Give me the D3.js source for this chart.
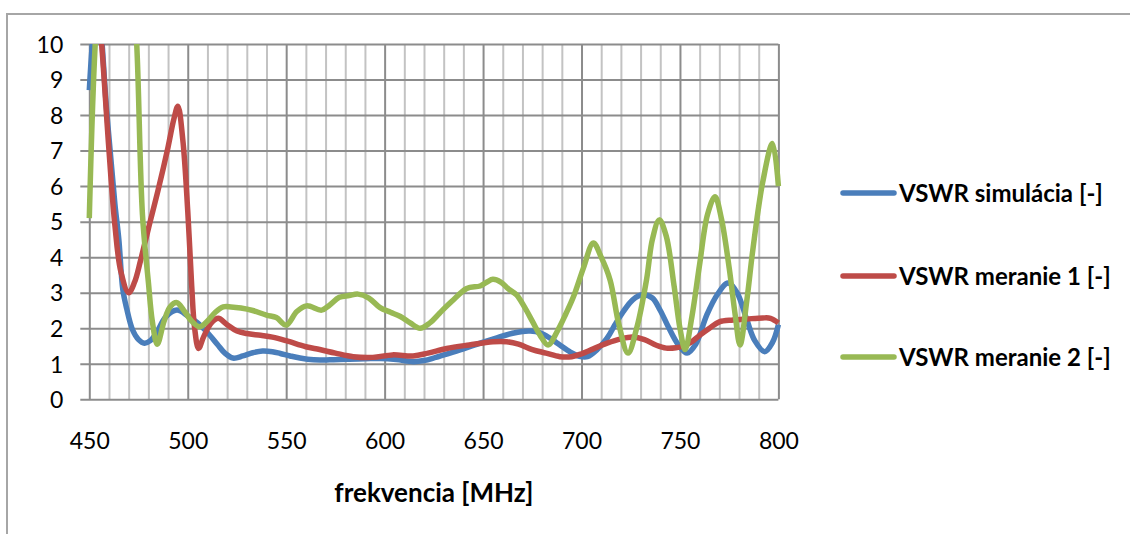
<!DOCTYPE html>
<html>
<head>
<meta charset="utf-8">
<script src="https://cdn.jsdelivr.net/npm/d3@7"></script>
<style>
  html, body { margin: 0; padding: 0; background: #fff; }
  #chart { width: 1130px; height: 534px; }
  text { font-family: Lato, "Open Sans", sans-serif; fill: #000; }
  .tickLabel { font-size: 23px; }
  .axisTitle { font-size: 26px; font-weight: bold; }
  .legendText { font-size: 24px; font-weight: bold; }
</style>
</head>
<body>
<div id="chart"><svg width="1130" height="534"></svg></div>
<script>

// ***** DATA *****

// x tick labels and y tick labels
const xTicks = [450, 500, 550, 600, 650, 700, 750, 800];
const yTicks = [0, 1, 2, 3, 4, 5, 6, 7, 8, 9, 10];

const seriesNames = ["VSWR simulácia [-]", "VSWR meranie 1 [-]", "VSWR meranie 2 [-]"];
const seriesColors = ["#4A7EBB", "#BE4B48", "#98B954"];

// simulácia
const simFreq = [450, 454, 459, 463, 465, 467, 469, 472, 475, 478, 481, 484, 489, 494.5,
    500, 505, 510, 515, 519, 523, 528, 533, 538, 543, 547, 552, 557, 564, 572, 581,
    590, 598, 606, 614.5, 620, 626, 632, 640, 648.5, 657, 665, 670, 674, 679, 684,
    689, 694, 699, 703, 708, 713, 717, 721, 726, 731, 736, 740, 744, 749, 753.6,
    758, 763.6, 769, 774.4, 779, 784, 788, 793, 797, 800];
const simVswr = [8.7, 11.3, 8.0, 5.5, 4.5, 3.1, 2.55, 1.95, 1.68, 1.58, 1.65, 1.86, 2.33, 2.51,
    2.35, 2.15, 1.88, 1.55, 1.29, 1.16, 1.22, 1.31, 1.36, 1.34, 1.29, 1.22, 1.16, 1.11, 1.11, 1.13,
    1.14, 1.15, 1.12, 1.06, 1.09, 1.18, 1.28, 1.42, 1.58, 1.73, 1.86, 1.91, 1.92, 1.87, 1.72,
    1.53, 1.34, 1.21, 1.2, 1.4, 1.72, 2.1, 2.45, 2.8, 2.94, 2.85, 2.5, 2.05, 1.55, 1.3,
    1.55, 2.37, 2.95, 3.27, 3.0, 2.23, 1.65, 1.34, 1.6, 2.1];

// meranie 1
const m1Freq = [450, 453, 456, 460, 463, 466, 470, 473, 476, 480, 485, 490, 493, 495,
    497.5, 500, 502, 503.5, 505.5, 508, 512, 515.5, 520, 525, 530, 537, 543, 550,
    560, 567, 575, 584, 594, 604, 614.5, 622, 631.5, 643, 655, 662, 668, 675,
    682, 689, 695, 700, 706, 713, 720, 726, 732, 738, 743, 748, 752, 756,
    760, 765, 770, 777, 784, 792, 796, 800];
const m1Vswr = [13, 12, 10.2, 7.0, 4.9, 3.6, 3.0, 3.3, 3.9, 4.8, 5.9, 7.1, 7.9, 8.25,
    7.3, 5.3, 3.2, 2.0, 1.43, 1.75, 2.15, 2.28, 2.1, 1.92, 1.85, 1.8, 1.75, 1.65,
    1.48, 1.4, 1.3, 1.2, 1.18, 1.25, 1.22, 1.3, 1.43, 1.53, 1.62, 1.62, 1.55, 1.4,
    1.3, 1.2, 1.2, 1.28, 1.42, 1.58, 1.7, 1.75, 1.68, 1.52, 1.44, 1.45, 1.5, 1.62,
    1.8, 2.0, 2.18, 2.23, 2.26, 2.29, 2.28, 2.15];

// meranie 2
const m2Freq = [450, 453, 458, 466, 471, 474, 477, 480, 482, 484.5, 488, 491, 494.5,
    498, 502, 506, 510, 514, 518, 522, 527, 533, 540, 545, 550, 555.4, 560.4, 568,
    572, 577, 582, 586.5, 592, 597.7, 603, 608, 613, 618, 623, 628, 634, 641.7,
    648.5, 652, 655, 659, 663, 667, 671, 675, 679, 683, 688, 692, 696, 701, 706,
    710, 714.5, 719, 723.6, 728, 733, 736, 739.5, 743, 747, 750, 752.6, 756, 760,
    764, 767.8, 771, 775, 778, 780.5, 784, 787, 792, 797, 800];
const m2Vswr = [5.1, 10, 14, 15, 12.5, 10.1, 5.2, 3.3, 2.2, 1.55, 2.2, 2.6, 2.72,
    2.5, 2.2, 2.04, 2.2, 2.45, 2.6, 2.6, 2.57, 2.5, 2.37, 2.3, 2.09, 2.47, 2.63, 2.51,
    2.65, 2.87, 2.92, 2.96, 2.85, 2.58, 2.45, 2.33, 2.15, 2.0, 2.15, 2.43, 2.75, 3.12,
    3.19, 3.3, 3.38, 3.3, 3.1, 2.94, 2.6, 2.2, 1.8, 1.53, 1.95, 2.4, 2.9, 3.7, 4.4,
    4.0, 3.36, 2.1, 1.3, 2.0, 3.36, 4.5, 5.05, 4.6, 3.2, 2.0, 1.4, 2.3, 3.8,
    5.2, 5.7, 5.1, 3.7, 2.4, 1.53, 2.8, 4.2, 6.1, 7.2, 6.0];

const seriesFreq = [simFreq, m1Freq, m2Freq];
const seriesVswr = [simVswr, m1Vswr, m2Vswr];

// ***** BASIC SETUP *****

const width = 1130;
const height = 534;
const margin = {top: 44, left: 89.3, right: 351.6, bottom: 134.7};
const plotWidth = width - margin.left - margin.right;
const plotHeight = height - margin.top - margin.bottom;

const svg = d3.select("#chart").select("svg");

// outer chart frame
svg.append("rect")
    .attr("x", 7)
    .attr("y", 14)
    .attr("width", 1140)
    .attr("height", 540)
    .attr("fill", "none")
    .attr("stroke", "#a6a6a6")
    .attr("stroke-width", 2);

// ***** SCALES *****

const xScale = d3.scaleLinear()
    .domain([450, 800])
    .range([0, plotWidth]);

const yScale = d3.scaleLinear()
    .domain([0, 10])
    .range([plotHeight, 0]);

const plot = svg.append("g")
    .attr("transform", `translate(${margin.left}, ${margin.top})`);

// ***** GRID *****

// minor vertical lines every 10 MHz
plot.append("g")
    .attr("class", "gridMinor")
    .attr("transform", `translate(0, ${plotHeight})`)
    .call(d3.axisBottom(xScale)
        .tickValues(d3.range(450, 801, 10).filter(d => d % 50 !== 0))
        .tickSize(-plotHeight)
        .tickFormat(""))
    .call(g => g.select(".domain").remove())
    .call(g => g.selectAll("line").attr("stroke", "#c3c3c3").attr("stroke-width", 2));

// major vertical lines every 50 MHz
plot.append("g")
    .attr("class", "gridMajor")
    .attr("transform", `translate(0, ${plotHeight})`)
    .call(d3.axisBottom(xScale)
        .tickValues(xTicks)
        .tickSize(-plotHeight)
        .tickFormat(""))
    .call(g => g.select(".domain").remove())
    .call(g => g.selectAll("line").attr("stroke", "#8c8c8c").attr("stroke-width", 2));

// horizontal lines + y labels
plot.append("g")
    .attr("class", "yAxis")
    .call(d3.axisLeft(yScale)
        .tickValues(yTicks)
        .tickSize(-plotWidth)
        .tickPadding(26))
    .attr("font-size", null)
    .attr("font-family", null)
    .call(g => g.select(".domain").remove())
    .call(g => g.selectAll("line")
        .attr("x1", -9)
        .attr("stroke", "#8c8c8c")
        .attr("stroke-width", 2))
    .call(g => g.selectAll("text")
        .attr("class", "tickLabel")
        .attr("dy", "0.36em"));

// x labels
plot.append("g")
    .attr("class", "xAxis")
    .attr("transform", `translate(0, ${plotHeight})`)
    .call(d3.axisBottom(xScale)
        .tickValues(xTicks)
        .tickSize(0)
        .tickFormat(d3.format("d")))
    .attr("font-size", null)
    .attr("font-family", null)
    .call(g => g.select(".domain").remove())
    .call(g => g.selectAll("text")
        .attr("class", "tickLabel")
        .attr("y", 41)
        .attr("dy", "0.36em"));

// ***** LINES *****

svg.append("clipPath")
    .attr("id", "plotClip")
    .append("rect")
    .attr("x", -4)
    .attr("y", 0)
    .attr("width", plotWidth + 8)
    .attr("height", plotHeight + 4);

const line = d3.line()
    .x(d => xScale(d[0]))
    .y(d => yScale(d[1]))
    .curve(d3.curveCatmullRom.alpha(0.5));

const lines = plot.append("g").attr("clip-path", "url(#plotClip)");

seriesNames.forEach((name, i) => {
    const pts = seriesFreq[i].map((f, j) => [f, seriesVswr[i][j]]);
    lines.append("path")
        .datum(pts)
        .attr("fill", "none")
        .attr("stroke", seriesColors[i])
        .attr("stroke-width", 5.5)
        .attr("stroke-linejoin", "round")
        .attr("d", line);
});

// ***** LEGEND *****

const legendY = [193, 276, 357];
const legend = svg.append("g").attr("id", "legend");

seriesNames.forEach((name, i) => {
    legend.append("line")
        .attr("x1", 843)
        .attr("x2", 894)
        .attr("y1", legendY[i])
        .attr("y2", legendY[i])
        .attr("stroke", seriesColors[i])
        .attr("stroke-width", 5.5)
        .attr("stroke-linecap", "round");
    legend.append("text")
        .attr("class", "legendText")
        .attr("x", 899)
        .attr("y", legendY[i])
        .attr("dy", "0.36em")
        .text(name);
});

// ***** AXIS TITLE *****

svg.append("text")
    .attr("class", "axisTitle")
    .attr("x", margin.left + plotWidth / 2)
    .attr("y", 493)
    .attr("dy", "0.36em")
    .attr("text-anchor", "middle")
    .text("frekvencia [MHz]");

</script>
</body>
</html>
